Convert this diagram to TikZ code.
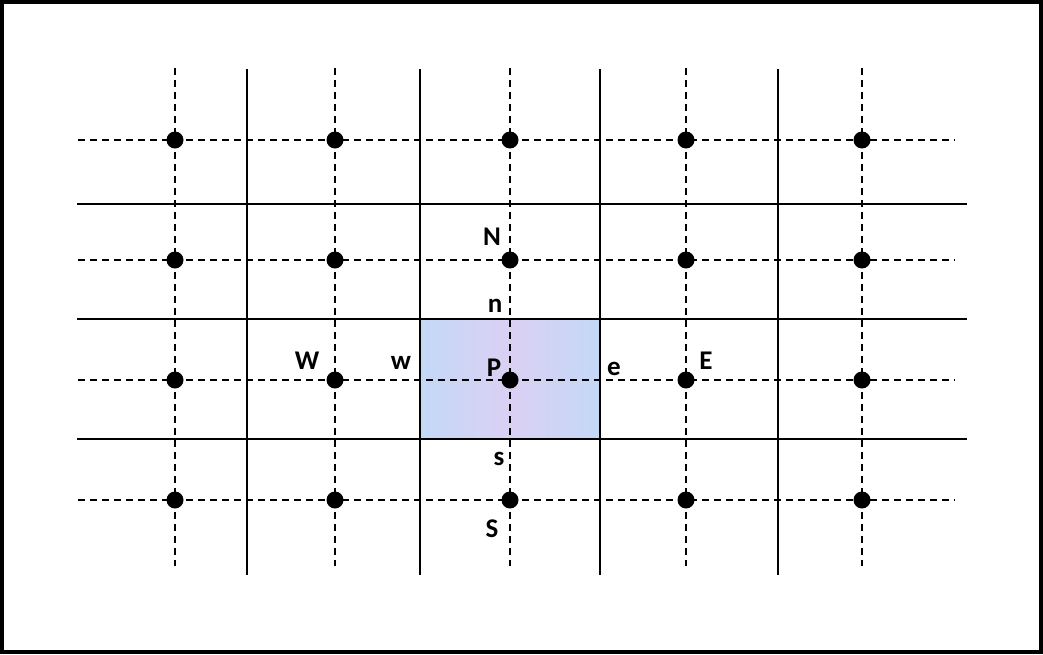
\documentclass[tikz,border=0pt]{standalone}
\usepackage{fontspec}
\setmainfont{Carlito}
\begin{document}
\begin{tikzpicture}[x=1pt,y=-1pt,
  gridsolid/.style={line width=2pt,black},
  griddash/.style={line width=1.8pt,black,dash pattern=on 7pt off 5pt},
  dot/.style={circle,fill=black,inner sep=0pt,minimum size=17pt},
  lbl/.style={anchor=base,inner sep=0pt,font=\fontsize{27}{27}\selectfont\bfseries}]
\useasboundingbox (0,0) rectangle (1043,654);
\definecolor{cellA}{RGB}{196,216,246}
\definecolor{cellB}{RGB}{218,208,244}
% control volume
\shade[left color=cellA,right color=cellA,middle color=cellB] (420,319) rectangle (600,439);
\draw[gray,line width=1pt,dash pattern=on 2pt off 1pt] (420,319) rectangle (600,439);
% dashed grid lines
\foreach \y in {140,260,380,500} {
  \coordinate (hl\y) at (78,\y); \coordinate (hr\y) at (955,\y);
  \draw[griddash] (hl\y) -- (hr\y);
}
\foreach \x in {175,335,510,686,862} {
  \coordinate (vt\x) at (\x,68); \coordinate (vb\x) at (\x,566);
  \draw[griddash] (vt\x) -- (vb\x);
}
% solid grid lines
\foreach \y in {204,319,439} {
  \coordinate (sl\y) at (77,\y); \coordinate (sr\y) at (967,\y);
  \draw[gridsolid] (sl\y) -- (sr\y);
}
\foreach \x in {247,420,600,778} {
  \coordinate (st\x) at (\x,69); \coordinate (sb\x) at (\x,575);
  \draw[gridsolid] (st\x) -- (sb\x);
}
% nodes
\foreach \x in {175,335,510,686,862} {
  \foreach \y in {140,260,380,500} {
    \node[dot] (d\x-\y) at (\x,\y) {};
  }
}
% labels
\node[lbl] (labN) at (492,245) {N};
\node[lbl] (labn) at (495,312) {n};
\node[lbl] (labP) at (494,376) {P};
\node[lbl] (labw) at (401,369) {w};
\node[lbl] (labe) at (614,375) {e};
\node[lbl] (labW) at (307,369) {W};
\node[lbl] (labE) at (706,369) {E};
\node[lbl] (labs) at (499,465) {s};
\node[lbl] (labS) at (492,537) {S};
% border
\draw[line width=4pt] (2,2) rectangle (1041,652);
\end{tikzpicture}
\end{document}
